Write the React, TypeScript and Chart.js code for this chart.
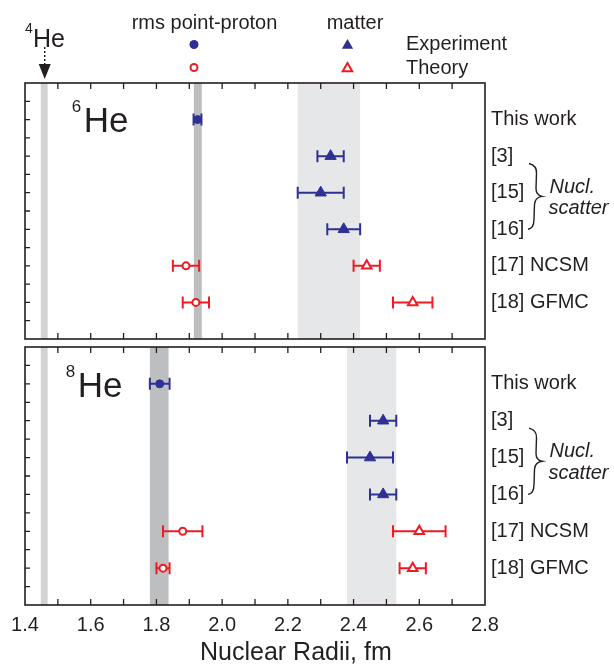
import React, { useEffect, useRef } from 'react';
import { Chart, registerables } from 'chart.js';

Chart.register(...registerables);

// ---------- data ----------
const rowLabels = ['This work', '[3]', '[15]', '[16]', '[17] NCSM', '[18] GFMC'];
const rowValues = [1, 2, 3, 4, 5, 6];
const rowTickValues = [0.5, 1, 1.5, 2, 2.5, 3, 3.5, 4, 4.5, 5, 5.5, 6, 6.5];
const xTickLabels = ['1.4', '1.6', '1.8', '2.0', '2.2', '2.4', '2.6', '2.8'];
const xMinorTickValues = [1.5, 1.6, 1.7, 1.8, 1.9, 2.0, 2.1, 2.2, 2.3, 2.4, 2.5, 2.6, 2.7];

// 4He point-proton radius band
const he4ProtonBand = [1.448, 1.469];

// 6He
const he6ExpProtonRows = [1];
const he6ExpProton = [1.925];
const he6ExpProtonErr = [0.012];
const he6ExpMatterRows = [2, 3, 4];
const he6ExpMatter = [2.33, 2.3, 2.37];
const he6ExpMatterErr = [0.04, 0.07, 0.05];
const he6ThProtonRows = [5, 6];
const he6ThProton = [1.89, 1.92];
const he6ThProtonErr = [0.04, 0.04];
const he6ThMatterRows = [5, 6];
const he6ThMatter = [2.44, 2.58];
const he6ThMatterErr = [0.04, 0.06];
const he6ProtonBand = [1.914, 1.938];
const he6MatterBand = [2.23, 2.42];

// 8He
const he8ExpProtonRows = [1];
const he8ExpProton = [1.81];
const he8ExpProtonErr = [0.03];
const he8ExpMatterRows = [2, 3, 4];
const he8ExpMatter = [2.49, 2.45, 2.49];
const he8ExpMatterErr = [0.04, 0.07, 0.04];
const he8ThProtonRows = [5, 6];
const he8ThProton = [1.88, 1.82];
const he8ThProtonErr = [0.06, 0.02];
const he8ThMatterRows = [5, 6];
const he8ThMatter = [2.6, 2.58];
const he8ThMatterErr = [0.08, 0.04];
const he8ProtonBand = [1.78, 1.837];
const he8MatterBand = [2.38, 2.53];

// ---------- style ----------
const BLUE = '#2e3192';
const RED = '#ed1c24';
const INK = '#231f20';
const BAND_DARK = '#bcbec0';
const BAND_4HE = '#d1d3d4';
const BAND_LIGHT = '#e6e7e8';
const FONT = '"Liberation Sans", Arial, Helvetica, sans-serif';

function pts(rows: number[], vals: number[], errs: number[]) {
  return rows.map((r, i) => ({ x: vals[i], y: r, err: errs[i] }));
}

function text(ctx: CanvasRenderingContext2D, s: string, x: number, y: number, size: number, italic = false, align: CanvasTextAlign = 'left') {
  ctx.font = `${italic ? 'italic ' : ''}${size}px ${FONT}`;
  ctx.fillStyle = INK;
  ctx.textAlign = align;
  ctx.textBaseline = 'alphabetic';
  ctx.fillText(s, x, y);
}

function triPath(ctx: CanvasRenderingContext2D, x: number, y: number, r: number) {
  ctx.beginPath();
  ctx.moveTo(x, y - r);
  ctx.lineTo(x + r * 0.866, y + r / 2);
  ctx.lineTo(x - r * 0.866, y + r / 2);
  ctx.closePath();
}

type Panel = {
  name: string;
  sup: string;
  expProton: any[];
  expMatter: any[];
  thProton: any[];
  thMatter: any[];
  protonBand: number[];
  matterBand: number[];
  top: boolean;
};

const panel6: Panel = {
  name: 'He',
  sup: '6',
  expProton: pts(he6ExpProtonRows, he6ExpProton, he6ExpProtonErr),
  expMatter: pts(he6ExpMatterRows, he6ExpMatter, he6ExpMatterErr),
  thProton: pts(he6ThProtonRows, he6ThProton, he6ThProtonErr),
  thMatter: pts(he6ThMatterRows, he6ThMatter, he6ThMatterErr),
  protonBand: he6ProtonBand,
  matterBand: he6MatterBand,
  top: true,
};

const panel8: Panel = {
  name: 'He',
  sup: '8',
  expProton: pts(he8ExpProtonRows, he8ExpProton, he8ExpProtonErr),
  expMatter: pts(he8ExpMatterRows, he8ExpMatter, he8ExpMatterErr),
  thProton: pts(he8ThProtonRows, he8ThProton, he8ThProtonErr),
  thMatter: pts(he8ThMatterRows, he8ThMatter, he8ThMatterErr),
  protonBand: he8ProtonBand,
  matterBand: he8MatterBand,
  top: false,
};

function makePlugin(p: Panel) {
  return {
    id: 'panelDecor' + p.sup,
    beforeDatasetsDraw(chart: any) {
      const { ctx, chartArea, scales } = chart;
      const { top, bottom } = chartArea;
      const x = scales.x;
      const y = scales.y;
      ctx.save();
      const bands: [number[], string][] = [
        [he4ProtonBand, BAND_4HE],
        [p.protonBand, BAND_DARK],
        [p.matterBand, BAND_LIGHT],
      ];
      for (const [b, col] of bands) {
        const x0 = x.getPixelForValue(b[0]);
        const x1 = x.getPixelForValue(b[1]);
        ctx.fillStyle = col;
        ctx.fillRect(x0, top, x1 - x0, bottom - top);
      }
      // error bars
      chart.data.datasets.forEach((ds: any) => {
        ctx.strokeStyle = ds.errColor;
        ctx.lineWidth = 2;
        for (const d of ds.data) {
          const x0 = x.getPixelForValue(d.x - d.err);
          const x1 = x.getPixelForValue(d.x + d.err);
          const py = y.getPixelForValue(d.y);
          const cap = 6;
          ctx.beginPath();
          ctx.moveTo(x0, py);
          ctx.lineTo(x1, py);
          ctx.moveTo(x0, py - cap);
          ctx.lineTo(x0, py + cap);
          ctx.moveTo(x1, py - cap);
          ctx.lineTo(x1, py + cap);
          ctx.stroke();
        }
      });
      ctx.restore();
    },
    afterDraw(chart: any) {
      const { ctx, chartArea, scales } = chart;
      const { top, bottom, left, right } = chartArea;
      const x = scales.x;
      const y = scales.y;
      ctx.save();
      // frame
      ctx.strokeStyle = INK;
      ctx.lineWidth = 1.6;
      ctx.strokeRect(left, top, right - left, bottom - top);
      // ticks (inward)
      ctx.lineWidth = 1.3;
      ctx.beginPath();
      for (const v of xMinorTickValues) {
        const px = x.getPixelForValue(v);
        ctx.moveTo(px, top);
        ctx.lineTo(px, top + 6);
        ctx.moveTo(px, bottom);
        ctx.lineTo(px, bottom - 6);
      }
      for (const v of rowTickValues) {
        const py = y.getPixelForValue(v);
        ctx.moveTo(left, py);
        ctx.lineTo(left + 5, py);
      }
      ctx.stroke();

      // panel nucleus label
      const lx = p.top ? 71.7 : 65.7;
      const supBase = y.getPixelForValue(0) + (p.top ? 28.5 : 29.5);
      const nameBase = y.getPixelForValue(0) + (p.top ? 48.7 : 49.7);
      text(ctx, p.sup, lx, supBase, 17);
      text(ctx, p.name, lx + 12, nameBase, 35);

      // brace
      const bx = 530;
      const yT = y.getPixelForValue(2.2);
      const yB = y.getPixelForValue(4.0);
      const yM = y.getPixelForValue(3.1);
      ctx.lineWidth = 1.4;
      ctx.strokeStyle = INK;
      ctx.beginPath();
      ctx.moveTo(bx - 1, yT);
      ctx.quadraticCurveTo(bx + 7, yT + 2, bx + 6.5, yT + 10);
      ctx.lineTo(bx + 6, yM - 8);
      ctx.quadraticCurveTo(bx + 6, yM - 1, bx + 12, yM);
      ctx.quadraticCurveTo(bx + 5, yM + 1, bx + 4.5, yM + 8);
      ctx.lineTo(bx + 4, yB - 10);
      ctx.quadraticCurveTo(bx + 4, yB - 1, bx - 2, yB);
      ctx.stroke();
      text(ctx, 'Nucl.', 549.5, yM - 3.8, 20, true);
      text(ctx, 'scatter', 548.5, yM + 17.5, 20, true);

      if (p.top) {
        // legend
        text(ctx, 'rms point-proton', 131.7, 29.3, 20);
        text(ctx, 'matter', 326.7, 29.3, 20);
        text(ctx, 'Experiment', 406, 50.3, 20);
        text(ctx, 'Theory', 406, 74.3, 20);
        ctx.fillStyle = BLUE;
        ctx.beginPath();
        ctx.arc(194, 44.5, 4.5, 0, Math.PI * 2);
        ctx.fill();
        triPath(ctx, 347.5, 45.5, 6.5);
        ctx.fill();
        ctx.strokeStyle = RED;
        ctx.lineWidth = 2;
        ctx.fillStyle = '#fff';
        ctx.beginPath();
        ctx.arc(194, 67.5, 3.5, 0, Math.PI * 2);
        ctx.fill();
        ctx.stroke();
        triPath(ctx, 347.5, 68.5, 5.5);
        ctx.fill();
        ctx.stroke();
        // 4He label and arrow
        text(ctx, '4', 25, 33, 14);
        text(ctx, 'He', 33, 46.9, 25);
        const ax = x.getPixelForValue((he4ProtonBand[0] + he4ProtonBand[1]) / 2) + 0.5;
        ctx.strokeStyle = INK;
        ctx.lineWidth = 1.5;
        ctx.setLineDash([2, 2]);
        ctx.beginPath();
        ctx.moveTo(ax, 47);
        ctx.lineTo(ax, 65);
        ctx.stroke();
        ctx.setLineDash([]);
        ctx.fillStyle = INK;
        ctx.beginPath();
        ctx.moveTo(ax - 6, 64);
        ctx.lineTo(ax + 6, 64);
        ctx.lineTo(ax, 79);
        ctx.closePath();
        ctx.fill();
      } else {
        text(ctx, 'Nuclear Radii, fm', 200, 660, 25);
      }
      ctx.restore();
    },
  };
}

function makeConfig(p: Panel): any {
  const datasets = [
    {
      label: 'Experiment point-proton',
      data: p.expProton,
      pointStyle: 'circle',
      pointRadius: 4,
      pointBackgroundColor: BLUE,
      pointBorderColor: BLUE,
      pointBorderWidth: 1,
      errColor: BLUE,
    },
    {
      label: 'Experiment matter',
      data: p.expMatter,
      pointStyle: 'triangle',
      pointRadius: 6.5,
      pointBackgroundColor: BLUE,
      pointBorderColor: BLUE,
      pointBorderWidth: 1,
      errColor: BLUE,
    },
    {
      label: 'Theory point-proton',
      data: p.thProton,
      pointStyle: 'circle',
      pointRadius: 3.5,
      pointBackgroundColor: '#ffffff',
      pointBorderColor: RED,
      pointBorderWidth: 2,
      errColor: RED,
    },
    {
      label: 'Theory matter',
      data: p.thMatter,
      pointStyle: 'triangle',
      pointRadius: 5.5,
      pointBackgroundColor: '#ffffff',
      pointBorderColor: RED,
      pointBorderWidth: 2,
      errColor: RED,
    },
  ];
  return {
    type: 'scatter',
    data: { datasets },
    plugins: [makePlugin(p)],
    options: {
      responsive: false,
      maintainAspectRatio: false,
      animation: false,
      events: [],
      layout: {
        padding: p.top
          ? { left: 25, top: 83, right: 0, bottom: 325 }
          : { left: 25, top: 347, right: 0, bottom: 0 },
      },
      plugins: { legend: { display: false }, tooltip: { enabled: false } },
      scales: {
        x: {
          type: 'linear',
          min: 1.4,
          max: 2.8,
          display: !p.top,
          position: 'bottom',
          grid: { display: false, drawTicks: false },
          border: { display: false },
          afterBuildTicks: (s: any) => {
            s.ticks = xTickLabels.map((l) => ({ value: parseFloat(l) }));
          },
          afterFit: (s: any) => {
            s.height = p.top ? 0 : 59;
            s.paddingLeft = 0;
            s.paddingRight = 0;
          },
          ticks: {
            padding: 8,
            color: INK,
            font: { family: FONT, size: 20 },
            callback: (v: number) => {
              const i = xTickLabels.findIndex((l) => Math.abs(parseFloat(l) - v) < 1e-6);
              return i >= 0 ? xTickLabels[i] : '';
            },
          },
        },
        y: {
          type: 'linear',
          min: 0,
          max: 7,
          reverse: true,
          position: 'right',
          grid: { display: false, drawTicks: false },
          border: { display: false },
          afterBuildTicks: (s: any) => {
            s.ticks = rowValues.map((v) => ({ value: v }));
          },
          afterFit: (s: any) => {
            s.width = 129;
            s.paddingTop = 0;
            s.paddingBottom = 0;
          },
          ticks: {
            padding: 6,
            color: INK,
            font: { family: FONT, size: 20 },
            callback: (v: number) => {
              const i = rowValues.indexOf(v);
              return i >= 0 ? rowLabels[i] : '';
            },
          },
        },
      },
    },
  };
}

export default function App() {
  const ref1 = useRef<HTMLCanvasElement>(null);
  const ref2 = useRef<HTMLCanvasElement>(null);
  useEffect(() => {
    const c1 = new Chart(ref1.current as HTMLCanvasElement, makeConfig(panel6));
    const c2 = new Chart(ref2.current as HTMLCanvasElement, makeConfig(panel8));
    return () => {
      c1.destroy();
      c2.destroy();
    };
  }, []);
  const cs: React.CSSProperties = { position: 'absolute', left: 0, top: 0, width: 614, height: 664 };
  return (
    <div style={{ position: 'absolute', left: 0, top: 0, width: 614, height: 664, background: '#fff' }}>
      <canvas ref={ref1} width={614} height={664} style={cs} />
      <canvas ref={ref2} width={614} height={664} style={cs} />
    </div>
  );
}
